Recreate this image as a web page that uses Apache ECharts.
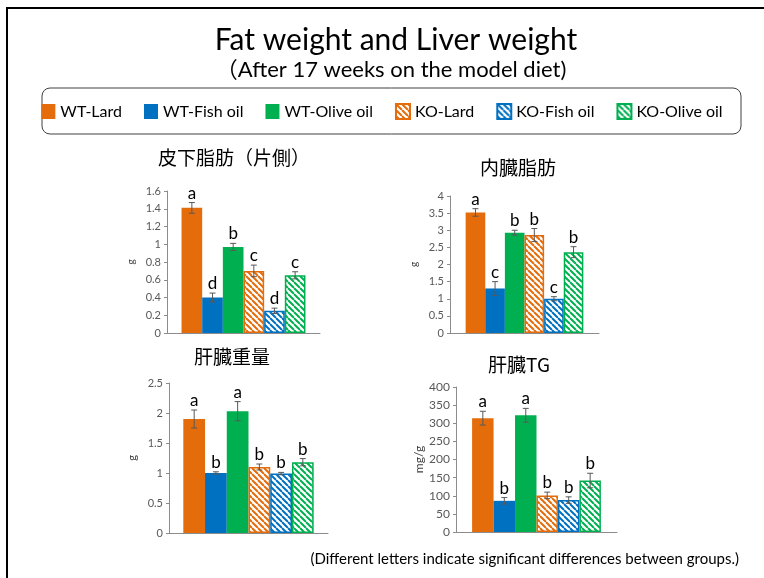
<!DOCTYPE html>
<html>
<head>
<meta charset="utf-8">
<script src="https://cdn.jsdelivr.net/npm/echarts@6/dist/echarts.min.js"></script>
<style>
  html, body { margin: 0; padding: 0; background: #fff; }
  #chart { width: 764px; height: 578px; }
</style>
</head>
<body>
<div id="chart"></div>
<script>
// Groups (legend entries), in bar order
const groups = ['WT-Lard', 'WT-Fish oil', 'WT-Olive oil', 'KO-Lard', 'KO-Fish oil', 'KO-Olive oil'];

// 皮下脂肪（片側） [g]
const subcutFat = [1.41, 0.40, 0.97, 0.70, 0.25, 0.65];
const subcutFatErr = [0.06, 0.05, 0.04, 0.065, 0.03, 0.04];
const subcutFatLetters = ['a', 'd', 'b', 'c', 'd', 'c'];

// 内臓脂肪 [g]
const visceralFat = [3.52, 1.30, 2.93, 2.86, 1.00, 2.36];
const visceralFatErr = [0.11, 0.20, 0.07, 0.19, 0.06, 0.16];
const visceralFatLetters = ['a', 'c', 'b', 'b', 'c', 'b'];

// 肝臓重量 [g]
const liverWeight = [1.90, 1.00, 2.03, 1.10, 0.99, 1.18];
const liverWeightErr = [0.15, 0.02, 0.16, 0.05, 0.02, 0.06];
const liverWeightLetters = ['a', 'b', 'a', 'b', 'b', 'b'];

// 肝臓TG [mg/g]
const liverTG = [314, 86, 322, 101, 88, 142];
const liverTGErr = [19, 9, 19, 9, 9, 20];
const liverTGLetters = ['a', 'b', 'a', 'b', 'b', 'b'];

// Panel titles, y-axis units and tick ranges
const panelTitles = ['皮下脂肪（片側）', '内臓脂肪', '肝臓重量', '肝臓TG'];
const panelUnits = ['g', 'g', 'g', 'mg/g'];
const axisMax = [1.6, 4, 2.5, 400];
const axisStep = [0.2, 0.5, 0.5, 50];

const panelValues = [subcutFat, visceralFat, liverWeight, liverTG];
const panelErrors = [subcutFatErr, visceralFatErr, liverWeightErr, liverTGErr];
const panelLetters = [subcutFatLetters, visceralFatLetters, liverWeightLetters, liverTGLetters];

// ---- layout ----
const grids = [
  { left: 167, top: 191, width: 153, height: 142 },
  { left: 450, top: 196, width: 149, height: 137 },
  { left: 169, top: 383, width: 159, height: 150 },
  { left: 456, top: 387, width: 161, height: 145 }
];
const catGaps = [0.19, 0.21, 0.18, 0.20];
const titlePos = [[229, 143], [513, 153], [227, 342], [514, 350]];
const unitFont = [10, 10, 11, 12];
const tickFont = [11, 11, 11, 12];

const ORANGE = '#E46C0A', BLUE = '#0070C0', GREEN = '#00B050';
const LATIN = 'Lato, "Noto Sans CJK JP", sans-serif';
const CJK = '"Noto Sans CJK JP", sans-serif';

// diagonal hatch fill for KO bars
function hatch(color) {
  const s = 6;
  const c = document.createElement('canvas');
  c.width = s; c.height = s;
  const g = c.getContext('2d');
  g.fillStyle = '#ffffff';
  g.fillRect(0, 0, s, s);
  g.strokeStyle = color;
  g.lineWidth = 2;
  g.beginPath();
  for (let k = -1; k <= 1; k++) {
    g.moveTo(k * s, 0);
    g.lineTo(k * s + s, s);
  }
  g.stroke();
  return { image: c, repeat: 'repeat' };
}

const barStyles = [
  { color: ORANGE },
  { color: BLUE },
  { color: GREEN },
  { color: hatch(ORANGE), borderColor: ORANGE, borderWidth: 1.5 },
  { color: hatch(BLUE), borderColor: BLUE, borderWidth: 1.5 },
  { color: hatch(GREEN), borderColor: GREEN, borderWidth: 1.5 }
];

const xAxes = [], yAxes = [], series = [];

grids.forEach((gr, gi) => {
  xAxes.push({
    type: 'category', gridIndex: gi, data: [''],
    axisLine: { lineStyle: { color: '#8c8c8c', width: 1 } },
    axisTick: { show: false }, axisLabel: { show: false }
  });
  yAxes.push({
    type: 'value', gridIndex: gi, min: 0, max: axisMax[gi], interval: axisStep[gi],
    name: panelUnits[gi], nameLocation: 'middle', nameRotate: 90, nameGap: 31,
    nameTextStyle: { fontFamily: LATIN, fontSize: unitFont[gi], color: '#404040' },
    axisLine: { show: true, lineStyle: { color: '#8c8c8c', width: 1 } },
    axisTick: { show: true, length: 3, lineStyle: { color: '#8c8c8c' } },
    axisLabel: { fontFamily: LATIN, fontSize: tickFont[gi], color: '#595959', margin: 6 },
    splitLine: { show: false }
  });

  const vals = panelValues[gi];
  groups.forEach((name, si) => {
    series.push({
      type: 'bar', name: name, xAxisIndex: gi, yAxisIndex: gi,
      data: [vals[si]], barGap: '0%', barCategoryGap: (catGaps[gi] * 100) + '%',
      itemStyle: barStyles[si], silent: true
    });
  });

  const errs = panelErrors[gi];
  const letters = panelLetters[gi];
  const gap = catGaps[gi];
  series.push({
    type: 'custom', xAxisIndex: gi, yAxisIndex: gi, silent: true, z: 5,
    encode: { x: 0, y: 1 },
    data: vals.map((v, i) => [0, v, errs[i], i]),
    renderItem: function (params, api) {
      const v = api.value(1), e = api.value(2), i = api.value(3);
      const base = api.coord([0, v]);
      const band = gr.width;
      const barsW = band * (1 - gap);
      const bw = barsW / groups.length;
      const x = base[0] - barsW / 2 + bw * (i + 0.5);
      const yTop = api.coord([0, v + e])[1];
      const yBot = api.coord([0, v - e])[1];
      const cap = 3;
      const ls = { stroke: '#595959', lineWidth: 1 };
      return {
        type: 'group',
        children: [
          { type: 'line', shape: { x1: x, y1: yTop, x2: x, y2: yBot }, style: ls },
          { type: 'line', shape: { x1: x - cap, y1: yTop, x2: x + cap, y2: yTop }, style: ls },
          { type: 'line', shape: { x1: x - cap, y1: yBot, x2: x + cap, y2: yBot }, style: ls },
          {
            type: 'text', x: x, y: yTop - 1,
            style: {
              text: letters[params.dataIndex], fill: '#000',
              font: '17px ' + LATIN, textAlign: 'center', textVerticalAlign: 'bottom'
            }
          }
        ]
      };
    }
  });
});

const titles = [
  { text: 'Fat weight and Liver weight', left: 391, top: 20, textAlign: 'center',
    textStyle: { fontFamily: LATIN, fontSize: 30, fontWeight: 'normal', color: '#000' } },
  { text: '（After 17 weeks on the model diet)', left: 386, top: 54, textAlign: 'center',
    textStyle: { fontFamily: LATIN, fontSize: 22, fontWeight: 'normal', color: '#000' } },
  { text: '(Different letters indicate significant differences between groups.)', right: 20, top: 547,
    textStyle: { fontFamily: LATIN, fontSize: 15, fontWeight: 'normal', color: '#000' } }
];
panelTitles.forEach((t, i) => {
  titles.push({
    text: t, left: titlePos[i][0], top: titlePos[i][1], textAlign: 'center',
    textStyle: { fontFamily: CJK, fontSize: 19, fontWeight: 'normal', color: '#000' }
  });
});

const chart = echarts.init(document.getElementById('chart'), null, { renderer: 'canvas' });
chart.setOption({
  animation: false,
  backgroundColor: '#fff',
  title: titles,
  legend: {
    data: groups, left: 'center', top: 98, icon: 'rect',
    itemWidth: 14, itemHeight: 15, itemGap: 22,
    selectedMode: false,
    textStyle: { fontFamily: LATIN, fontSize: 16, color: '#000' }
  },
  grid: grids.map(g => Object.assign({ containLabel: false }, g)),
  xAxis: xAxes,
  yAxis: yAxes,
  series: series,
  graphic: [
    { type: 'rect', shape: { x: 7, y: 8, width: 800, height: 620 },
      style: { fill: 'none', stroke: '#000', lineWidth: 2 }, silent: true },
    { type: 'rect', shape: { x: 42, y: 88, width: 699, height: 46, r: 8 },
      style: { fill: 'none', stroke: '#404040', lineWidth: 1 }, silent: true }
  ]
});
</script>
</body>
</html>
